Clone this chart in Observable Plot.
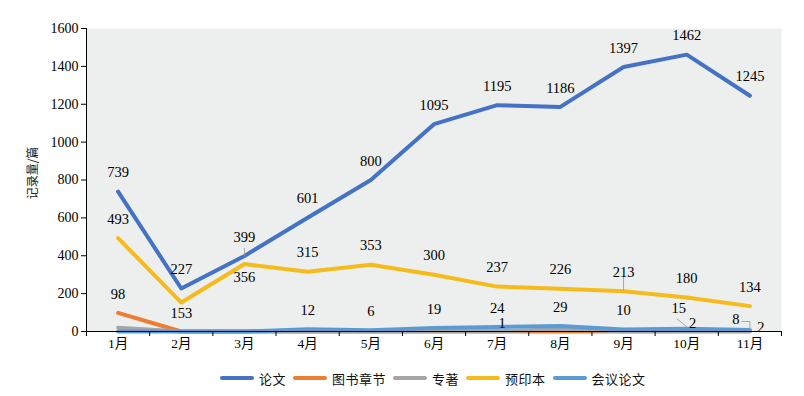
<!DOCTYPE html>
<html>
<head>
<meta charset="utf-8">
<script src="https://cdn.jsdelivr.net/npm/d3@7"></script>
<script src="https://cdn.jsdelivr.net/npm/@observablehq/plot@0.6"></script>
<style>
  html, body { margin: 0; padding: 0; background: #fff; }
  #wrap { position: relative; width: 804px; height: 396px; }
  #legend { position: absolute; left: 220px; top: 360px; height: 36px; display: flex; align-items: center;
    font-family: "Noto Sans CJK SC", sans-serif; font-size: 13px; color: #111; letter-spacing: 0.5px; }
  #legend .sw { display: inline-block; width: 34px; height: 4px; border-radius: 2px; margin-right: 5px; }
  #legend .it { display: flex; align-items: center; margin-right: 7px; }
</style>
</head>
<body>
<div id="wrap"><div id="chart"></div><div id="legend"></div></div>
<script>
const months = ["1月","2月","3月","4月","5月","6月","7月","8月","9月","10月","11月"];
const seriesNames = ["论文","图书章节","专著","预印本","会议论文"];
const lunwen   = [739, 227, 399, 601, 800, 1095, 1195, 1186, 1397, 1462, 1245];
const tushu    = [98, 0, 0, 0, 0, 0, 0, 0, 0, 0, 0];
const zhuanzhu = [20, 0, 0, 0, 0, 1, 1, 12, 1, 2, 2];
const yuyin    = [493, 153, 356, 315, 353, 300, 237, 226, 213, 180, 134];
const huiyi    = [0, 0, 0, 12, 6, 19, 24, 29, 10, 15, 8];
const yTicks   = [0, 200, 400, 600, 800, 1000, 1200, 1400, 1600];
const colors   = ["#4472C4", "#ED7D31", "#A5A5A5", "#F5BB1B", "#5B9BD5"];

const values = [lunwen, tushu, zhuanzhu, yuyin, huiyi];
const data = [];
seriesNames.forEach((s, si) => values[si].forEach((v, i) => data.push({series: s, si, i, m: i + 1, month: months[i], v})));

// label placement (styling only, pixel offsets)
const labelStyle = {
  "论文":     {show: d => true, dy: d => -19, dx: d => 0},
  "图书章节": {show: d => d.v > 0, dy: d => -19, dx: d => 0},
  "专著":     {show: d => [6, 9, 10].includes(d.i), dy: d => ({6: -8, 9: -8, 10: -4})[d.i], dx: d => ({6: 5, 9: 6, 10: 11})[d.i]},
  "预印本":   {show: d => true, dy: d => (d.i === 1 ? 11 : d.i === 2 ? 13 : -19), dx: d => 0},
  "会议论文": {show: d => d.v > 0, dy: d => (d.i === 9 ? -20 : d.i === 10 ? -11 : -19), dx: d => (d.i === 9 ? -8 : d.i === 10 ? -14 : 0)}
};

const serif = "'Liberation Serif', 'Times New Roman', 'Noto Sans CJK SC', serif";
const W = 804, H = 360, mL = 86, mR = 23, mT = 28, mB = 29;
const pxX = months.length / (W - mL - mR);   // data units per px (x)
const pxY = 1600 / (H - mT - mB);            // data units per px (y)
const pick = (s, i) => data.find(d => d.series === s && d.i === i);

const marks = [
  Plot.frame({fill: "#EDEEEE", stroke: null}),
];
seriesNames.forEach((s, si) => {
  marks.push(Plot.lineY(data.filter(d => d.series === s), {
    x: "m", y: "v", stroke: colors[si], strokeWidth: 4, strokeLinecap: "round", strokeLinejoin: "round"
  }));
});
marks.push(Plot.ruleY([0], {stroke: "#000", strokeWidth: 1}));
marks.push(Plot.ruleX([0.5], {stroke: "#000", strokeWidth: 1}));

// leader lines
const lead = "#A6A6A6";
const p399 = pick("论文", 2), p213 = pick("预印本", 8), p15 = pick("会议论文", 9), p8 = pick("会议论文", 10);
marks.push(Plot.ruleX([p399], {x: "m", y1: "v", y2: d => d.v + 7.5 * pxY, stroke: lead, strokeWidth: 1}));
marks.push(Plot.ruleX([p213], {x: "m", y1: "v", y2: d => d.v + 15 * pxY, stroke: lead, strokeWidth: 1}));
marks.push(Plot.link([p15], {x1: d => d.m - 10 * pxX, y1: d => d.v + 10 * pxY, x2: "m", y2: d => d.v + 2 * pxY, stroke: lead, strokeWidth: 1}));
marks.push(Plot.line([
  {x: p8.m - 8 * pxX, y: p8.v + 8.5 * pxY},
  {x: p8.m, y: p8.v + 8.5 * pxY},
  {x: p8.m, y: p8.v + 0.5 * pxY}
], {x: "x", y: "y", stroke: lead, strokeWidth: 1}));

seriesNames.forEach((s) => {
  const st = labelStyle[s];
  const pts = data.filter(d => d.series === s && st.show(d));
  pts.forEach(d => {
    marks.push(Plot.text([d], {x: "m", y: "v", text: d => String(d.v), dy: st.dy(d), dx: st.dx(d),
      fontSize: 14.5, fontFamily: serif, fill: "#000"}));
  });
});
marks.push(Plot.axisY({ticks: yTicks, tickFormat: d => String(d), tickSize: 5, tickPadding: 3, fontSize: 14, fontFamily: serif, label: null, stroke: "#000"}));
marks.push(Plot.axisX({ticks: months.map((m, i) => i + 1), tickFormat: d => months[d - 1], tickSize: 0, tickPadding: 7,
  fontSize: 13.5, fontFamily: serif, label: null}));
marks.push(Plot.axisX({ticks: d3.range(0.5, months.length + 1, 1), tickSize: 5, tickFormat: () => "", label: null, stroke: "#000"}));
marks.push(Plot.text(["记录量/篇"], {frameAnchor: "left", textAnchor: "middle", rotate: -90, dx: -53, dy: -7, fontSize: 12,
  fontFamily: "'Noto Sans CJK SC', sans-serif", fill: "#222"}));

const chart = Plot.plot({
  width: W, height: H,
  marginLeft: mL, marginRight: mR, marginTop: mT, marginBottom: mB,
  style: {background: "#fff", color: "#000"},
  x: {domain: [0.5, months.length + 0.5]},
  y: {domain: [0, 1600]},
  marks
});
document.getElementById("chart").appendChild(chart);

const legend = document.getElementById("legend");
seriesNames.forEach((s, si) => {
  const it = document.createElement("div");
  it.className = "it";
  it.innerHTML = `<span class="sw" style="background:${colors[si]}"></span><span>${s}</span>`;
  legend.appendChild(it);
});
</script>
</body>
</html>
